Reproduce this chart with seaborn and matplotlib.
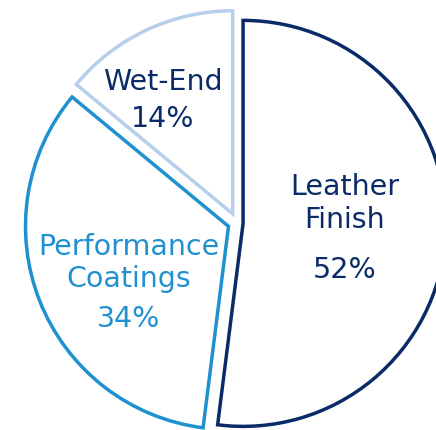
import matplotlib
matplotlib.use("Agg")
import matplotlib.pyplot as plt
import seaborn as sns

# Segment shares (percent), clockwise from 12 o'clock
segments = ["Leather Finish", "Performance Coatings", "Wet-End"]
shares = [52, 34, 14]
name_lines = [["Leather", "Finish"], ["Performance", "Coatings"], ["Wet-End"]]

edge_colors = sns.color_palette(["#0b2a68", "#1f90d0", "#b7cfeb"])
text_colors = ["#0b2a68", "#1f90d0", "#0b2a68"]
explode_frac = [0.03, 0.045, 0.05]

sns.set_theme(style="white")
plt.rcParams["font.family"] = ["DejaVu Sans"]

W, H = 436, 430
fig = plt.figure(figsize=(W / 100, H / 100), dpi=100)
ax = fig.add_axes([0, 0, 1, 1])

R = 203
cx, cy = 237, H - 223
# pie() takes the explode offset in data units, so scale by the radius
wedges, _ = ax.pie(
    shares,
    startangle=90,
    counterclock=False,
    radius=R,
    center=(cx, cy),
    explode=[f * R for f in explode_frac],
    colors=["white"] * 3,
    wedgeprops=dict(linewidth=2.5, joinstyle="miter"),
    frame=True,
)
for w, c in zip(wedges, edge_colors):
    w.set_edgecolor(c)

# Pixel-aligned data frame
ax.set_xlim(0, W)
ax.set_ylim(0, H)
ax.set_aspect("auto")
ax.axis("off")

# Label layout: x centre and baselines (from top) for name lines and percentage
label_x = [345, 129, 163]
name_base = [[195, 228], [255, 287], [90]]
pct_base = [278, 327, 127]

fs = 20.5
for i in range(3):
    for line, b in zip(name_lines[i], name_base[i]):
        ax.text(label_x[i], H - b, line, ha="center", va="baseline",
                fontsize=fs, color=text_colors[i])
    ax.text(label_x[i], H - pct_base[i], f"{shares[i]}%", ha="center",
            va="baseline", fontsize=fs, color=text_colors[i])

fig.savefig("out.png", dpi=100, facecolor="white")
